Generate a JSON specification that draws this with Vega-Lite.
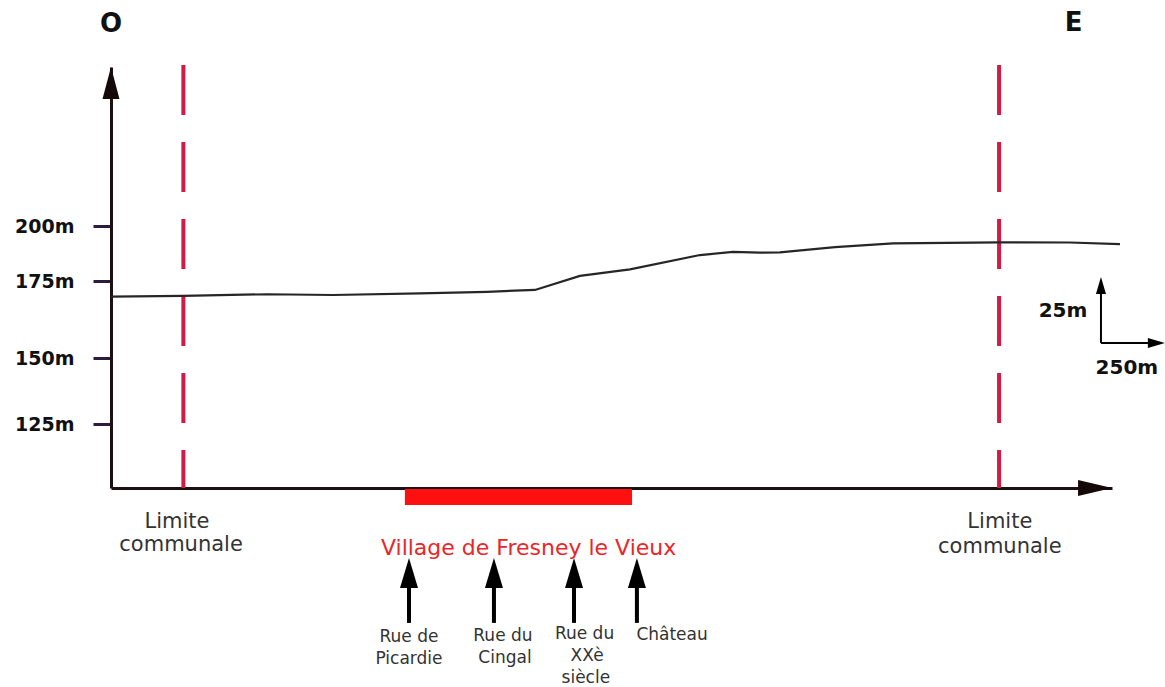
{
  "$schema": "https://vega.github.io/schema/vega-lite/v6.json",
  "autosize": {"type": "none"},
  "padding": {"left": 111, "top": 67, "right": 53, "bottom": 199},
  "width": 1001,
  "height": 421,
  "background": "white",
  "config": {"view": {"stroke": null}},
  "datasets": {
    "profile": [
      {"x": 0, "y": 169.9}, {"x": 280, "y": 170.2}, {"x": 608, "y": 170.7}, {"x": 865, "y": 170.45},
      {"x": 1204, "y": 171.0}, {"x": 1465, "y": 171.5}, {"x": 1652, "y": 172.1}, {"x": 1827, "y": 177.3},
      {"x": 2022, "y": 180.3}, {"x": 2295, "y": 186.8}, {"x": 2423, "y": 188.2}, {"x": 2528, "y": 187.9},
      {"x": 2606, "y": 188.0}, {"x": 2821, "y": 190.4}, {"x": 3047, "y": 192.1}, {"x": 3463, "y": 192.6},
      {"x": 3736, "y": 192.5}, {"x": 3931, "y": 191.8}
    ],
    "limits": [{"x": 282, "y": 262.8, "y2": 100}, {"x": 3460, "y": 262.8, "y2": 100}],
    "village": [{"x": 1145, "x2": 2030, "y": 99.6, "y2": 93.4}],
    "upHead": [{"x": 0, "y": 255.8}],
    "rightHead": [{"x": 3834, "y": 100}],
    "streetShafts": [
      {"x": 1161, "y": 47.3, "y2": 61.0}, {"x": 1492, "y": 47.3, "y2": 61.0},
      {"x": 1804, "y": 47.3, "y2": 61.0}, {"x": 2049, "y": 47.3, "y2": 61.0}
    ],
    "streetHeads": [{"x": 1161, "y": 66.8}, {"x": 1492, "y": 66.8}, {"x": 1804, "y": 66.8}, {"x": 2049, "y": 66.8}],
    "scaleShafts": [
      {"x": 3857, "x2": 3857, "y": 154.9, "y2": 172.1},
      {"x": 3857, "x2": 4040, "y": 154.9, "y2": 154.9}
    ],
    "scaleUp": [{"x": 3857, "y": 173.5}],
    "scaleRight": [{"x": 4073, "y": 154.9}],
    "cardinal": [{"x": 0, "y": 278.8, "t": "O"}, {"x": 3750, "y": 279.2, "t": "E"}],
    "boldText": [
      {"x": 3709, "y": 165.3, "t": "25m"}, {"x": 3958, "y": 146.2, "t": "250m"}
    ],
    "limitText": [
      {"x": 257, "y": 86.7, "t": "Limite"}, {"x": 273, "y": 77.7, "t": "communale"},
      {"x": 3463, "y": 86.7, "t": "Limite"}, {"x": 3463, "y": 77.0, "t": "communale"}
    ],
    "villageText": [{"x": 1627, "y": 76.6, "t": "Village de Fresney le Vieux"}],
    "streetText": [
      {"x": 1161, "y": 41.8, "t": "Rue de"}, {"x": 1161, "y": 33.2, "t": "Picardie"},
      {"x": 1527, "y": 42.2, "t": "Rue du"}, {"x": 1535, "y": 33.6, "t": "Cingal"},
      {"x": 1845, "y": 43.0, "t": "Rue du"}, {"x": 1855, "y": 34.4, "t": "XXè"}, {"x": 1850, "y": 25.8, "t": "siècle"},
      {"x": 2186, "y": 42.6, "t": "Château"}
    ]
  },
  "encoding": {
    "x": {
      "field": "x", "type": "quantitative",
      "scale": {"domain": [0, 3900], "nice": false, "zero": false},
      "axis": {"title": null, "domain": true, "domainColor": "#1c1010", "domainWidth": 3, "ticks": false, "labels": false, "grid": false}
    },
    "y": {
      "field": "y", "type": "quantitative",
      "scale": {"domain": [100, 125, 150, 175, 200, 262], "range": [421, 357, 291, 214, 159, 0], "nice": false, "zero": false},
      "axis": {
        "title": null, "domain": true, "domainColor": "#1c1010", "domainWidth": 3, "grid": false,
        "values": [125, 150, 175, 200], "tickColor": "#2d1b40", "tickWidth": 3, "tickSize": 18,
        "labelExpr": "datum.value + 'm'", "labelFont": "DejaVu Sans", "labelFontWeight": "bold",
        "labelFontSize": 19, "labelColor": "#111111", "labelPadding": 19
      }
    }
  },
  "layer": [
    {"data": {"name": "village"}, "mark": {"type": "rect", "color": "#ff1010"},
     "encoding": {"x2": {"field": "x2"}, "y2": {"field": "y2"}}},
    {"data": {"name": "limits"}, "mark": {"type": "rule", "color": "#d31a45", "strokeWidth": 4, "strokeDash": [50, 27]},
     "encoding": {"y2": {"field": "y2"}}},
    {"data": {"name": "profile"}, "mark": {"type": "line", "color": "#262626", "strokeWidth": 2.2}, "encoding": {}},
    {"data": {"name": "upHead"}, "mark": {"type": "point", "shape": "M0,-1L0.53,1L-0.53,1Z", "size": 1024, "filled": true, "color": "#150808", "opacity": 1}},
    {"data": {"name": "rightHead"}, "mark": {"type": "point", "shape": "M1,0L-1,0.47L-1,-0.47Z", "size": 1156, "filled": true, "color": "#150808", "opacity": 1}},
    {"data": {"name": "streetShafts"}, "mark": {"type": "rule", "color": "#000000", "strokeWidth": 4},
     "encoding": {"y2": {"field": "y2"}}},
    {"data": {"name": "streetHeads"}, "mark": {"type": "point", "shape": "M0,-1L0.6,1L-0.6,1Z", "size": 900, "filled": true, "color": "#000000", "opacity": 1}},
    {"data": {"name": "scaleShafts"}, "mark": {"type": "rule", "color": "#000000", "strokeWidth": 2},
     "encoding": {"x2": {"field": "x2"}, "y2": {"field": "y2"}}},
    {"data": {"name": "scaleUp"}, "mark": {"type": "point", "shape": "M0,-1L0.59,1L-0.59,1Z", "size": 289, "filled": true, "color": "#000000", "opacity": 1}},
    {"data": {"name": "scaleRight"}, "mark": {"type": "point", "shape": "M1,0L-1,0.59L-1,-0.59Z", "size": 289, "filled": true, "color": "#000000", "opacity": 1}},
    {"data": {"name": "cardinal"}, "mark": {"type": "text", "font": "DejaVu Sans", "fontWeight": "bold", "fontSize": 26, "color": "#111111", "align": "center", "baseline": "middle"},
     "encoding": {"text": {"field": "t"}}},
    {"data": {"name": "boldText"}, "mark": {"type": "text", "font": "DejaVu Sans", "fontWeight": "bold", "fontSize": 20, "color": "#111111", "align": "center", "baseline": "middle"},
     "encoding": {"text": {"field": "t"}}},
    {"data": {"name": "limitText"}, "mark": {"type": "text", "font": "DejaVu Sans", "fontSize": 21, "color": "#333333", "align": "center", "baseline": "middle"},
     "encoding": {"text": {"field": "t"}}},
    {"data": {"name": "villageText"}, "mark": {"type": "text", "font": "DejaVu Sans", "fontSize": 22, "color": "#e8262a", "align": "center", "baseline": "middle"},
     "encoding": {"text": {"field": "t"}}},
    {"data": {"name": "streetText"}, "mark": {"type": "text", "font": "DejaVu Sans", "fontSize": 17, "color": "#333333", "align": "center", "baseline": "middle"},
     "encoding": {"text": {"field": "t"}}}
  ]
}
